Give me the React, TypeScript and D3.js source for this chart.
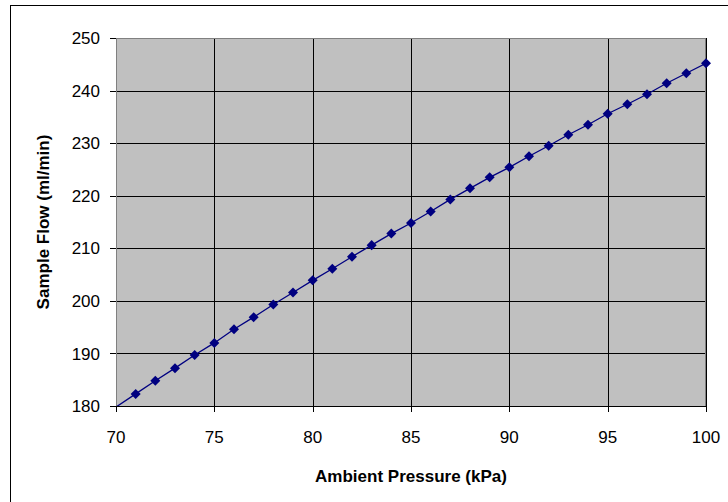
import React from "react"
import * as d3 from "d3"

// ambient pressure (kPa) vs sample flow (ml/min)
const pressure = [70, 71, 72, 73, 74, 75, 76, 77, 78, 79, 80, 81, 82, 83, 84, 85,
    86, 87, 88, 89, 90, 91, 92, 93, 94, 95, 96, 97, 98, 99, 100]
const flow = [179.8, 182.3, 184.8, 187.2, 189.7, 192.0, 194.6, 196.9, 199.3, 201.6, 203.9,
    206.1, 208.4, 210.6, 212.8, 214.8, 217.0, 219.3, 221.4, 223.5, 225.4,
    227.5, 229.5, 231.6, 233.5, 235.6, 237.4, 239.3, 241.4, 243.3, 245.2]
const xTicks = [70, 75, 80, 85, 90, 95, 100]
const yTicks = [180, 190, 200, 210, 220, 230, 240, 250]

const width = 728
const height = 502
const margin = {top: 38, right: 22, bottom: 96, left: 116}

const App = () => {
    const xScale = d3.scaleLinear().domain([70, 100]).range([margin.left, width - margin.right])
    const yScale = d3.scaleLinear().domain([180, 250]).range([height - margin.bottom, margin.top])
    const data: Array<[number, number]> = pressure.map((p, i) => [p, flow[i]])
    const line = d3.line<[number, number]>()
        .x(d => xScale(d[0]))
        .y(d => yScale(d[1]))
    const diamond = d3.symbol().type(d3.symbolDiamond2).size(64)()

    const x0 = margin.left
    const x1 = width - margin.right
    const y0 = height - margin.bottom
    const y1 = margin.top
    const font = "'Liberation Sans', Arial, sans-serif"

    return (
        <svg width={width} height={height} style={{position: "absolute", left: 0, top: 0}}
             fontFamily={font}>
            <rect x={0} y={0} width={width} height={height} fill="white"/>
            {/* chart border runs off the right and bottom of the picture */}
            <rect x={10.5} y={5.5} width={740} height={520} fill="white" stroke="black" strokeWidth={1}/>
            <defs>
                <clipPath id="plot">
                    <rect x={x0} y={y1} width={x1 - x0} height={y0 - y1}/>
                </clipPath>
            </defs>
            <rect x={x0} y={y1} width={x1 - x0} height={y0 - y1} fill="#C0C0C0"/>
            {/* grid */}
            {yTicks.map(t => (
                <line key={"gy" + t} x1={x0} x2={x1} y1={Math.round(yScale(t)) + 0.5}
                      y2={Math.round(yScale(t)) + 0.5} stroke="black" strokeWidth={1}/>
            ))}
            {xTicks.map(t => (
                <line key={"gx" + t} x1={Math.round(xScale(t)) + 0.5} x2={Math.round(xScale(t)) + 0.5}
                      y1={y1} y2={y0} stroke="black" strokeWidth={1}/>
            ))}
            <rect x={x0 + 0.5} y={y1 + 0.5} width={x1 - x0 - 1} height={y0 - y1} fill="none"
                  stroke="#808080" strokeWidth={1}/>
            {/* axes */}
            <line x1={x0 + 0.5} x2={x0 + 0.5} y1={y1} y2={y0} stroke="#808080"/>
            <line x1={x0} x2={x1} y1={y0 + 0.5} y2={y0 + 0.5} stroke="black"/>
            {yTicks.map(t => (
                <g key={"ty" + t}>
                    <line x1={x0 - 6} x2={x0} y1={Math.round(yScale(t)) + 0.5}
                          y2={Math.round(yScale(t)) + 0.5} stroke="black"/>
                    <text x={x0 - 16} y={yScale(t)} dy="0.36em" textAnchor="end" fontSize={17}>{t}</text>
                </g>
            ))}
            {xTicks.map(t => (
                <g key={"tx" + t}>
                    <line x1={Math.round(xScale(t)) + 0.5} x2={Math.round(xScale(t)) + 0.5}
                          y1={y0} y2={y0 + 6} stroke="black"/>
                    <text x={xScale(t)} y={y0 + 37} textAnchor="middle" fontSize={17}>{t}</text>
                </g>
            ))}
            {/* series */}
            <g clipPath="url(#plot)">
                <path d={line(data) ?? ""} fill="none" stroke="#000080" strokeWidth={1.3}/>
            </g>
            {data.filter(d => d[1] >= 180).map(d => (
                <path key={"m" + d[0]} d={diamond ?? ""} fill="#000080"
                      transform={`translate(${xScale(d[0])},${yScale(d[1])})`}/>
            ))}
            {/* titles */}
            <text x={(x0 + x1) / 2} y={482} textAnchor="middle" fontSize={17} fontWeight="bold">
                Ambient Pressure (kPa)
            </text>
            <text transform={`translate(49,${(y0 + y1) / 2}) rotate(-90)`} textAnchor="middle"
                  fontSize={17} fontWeight="bold">
                Sample Flow (ml/min)
            </text>
        </svg>
    )
}

export default App
